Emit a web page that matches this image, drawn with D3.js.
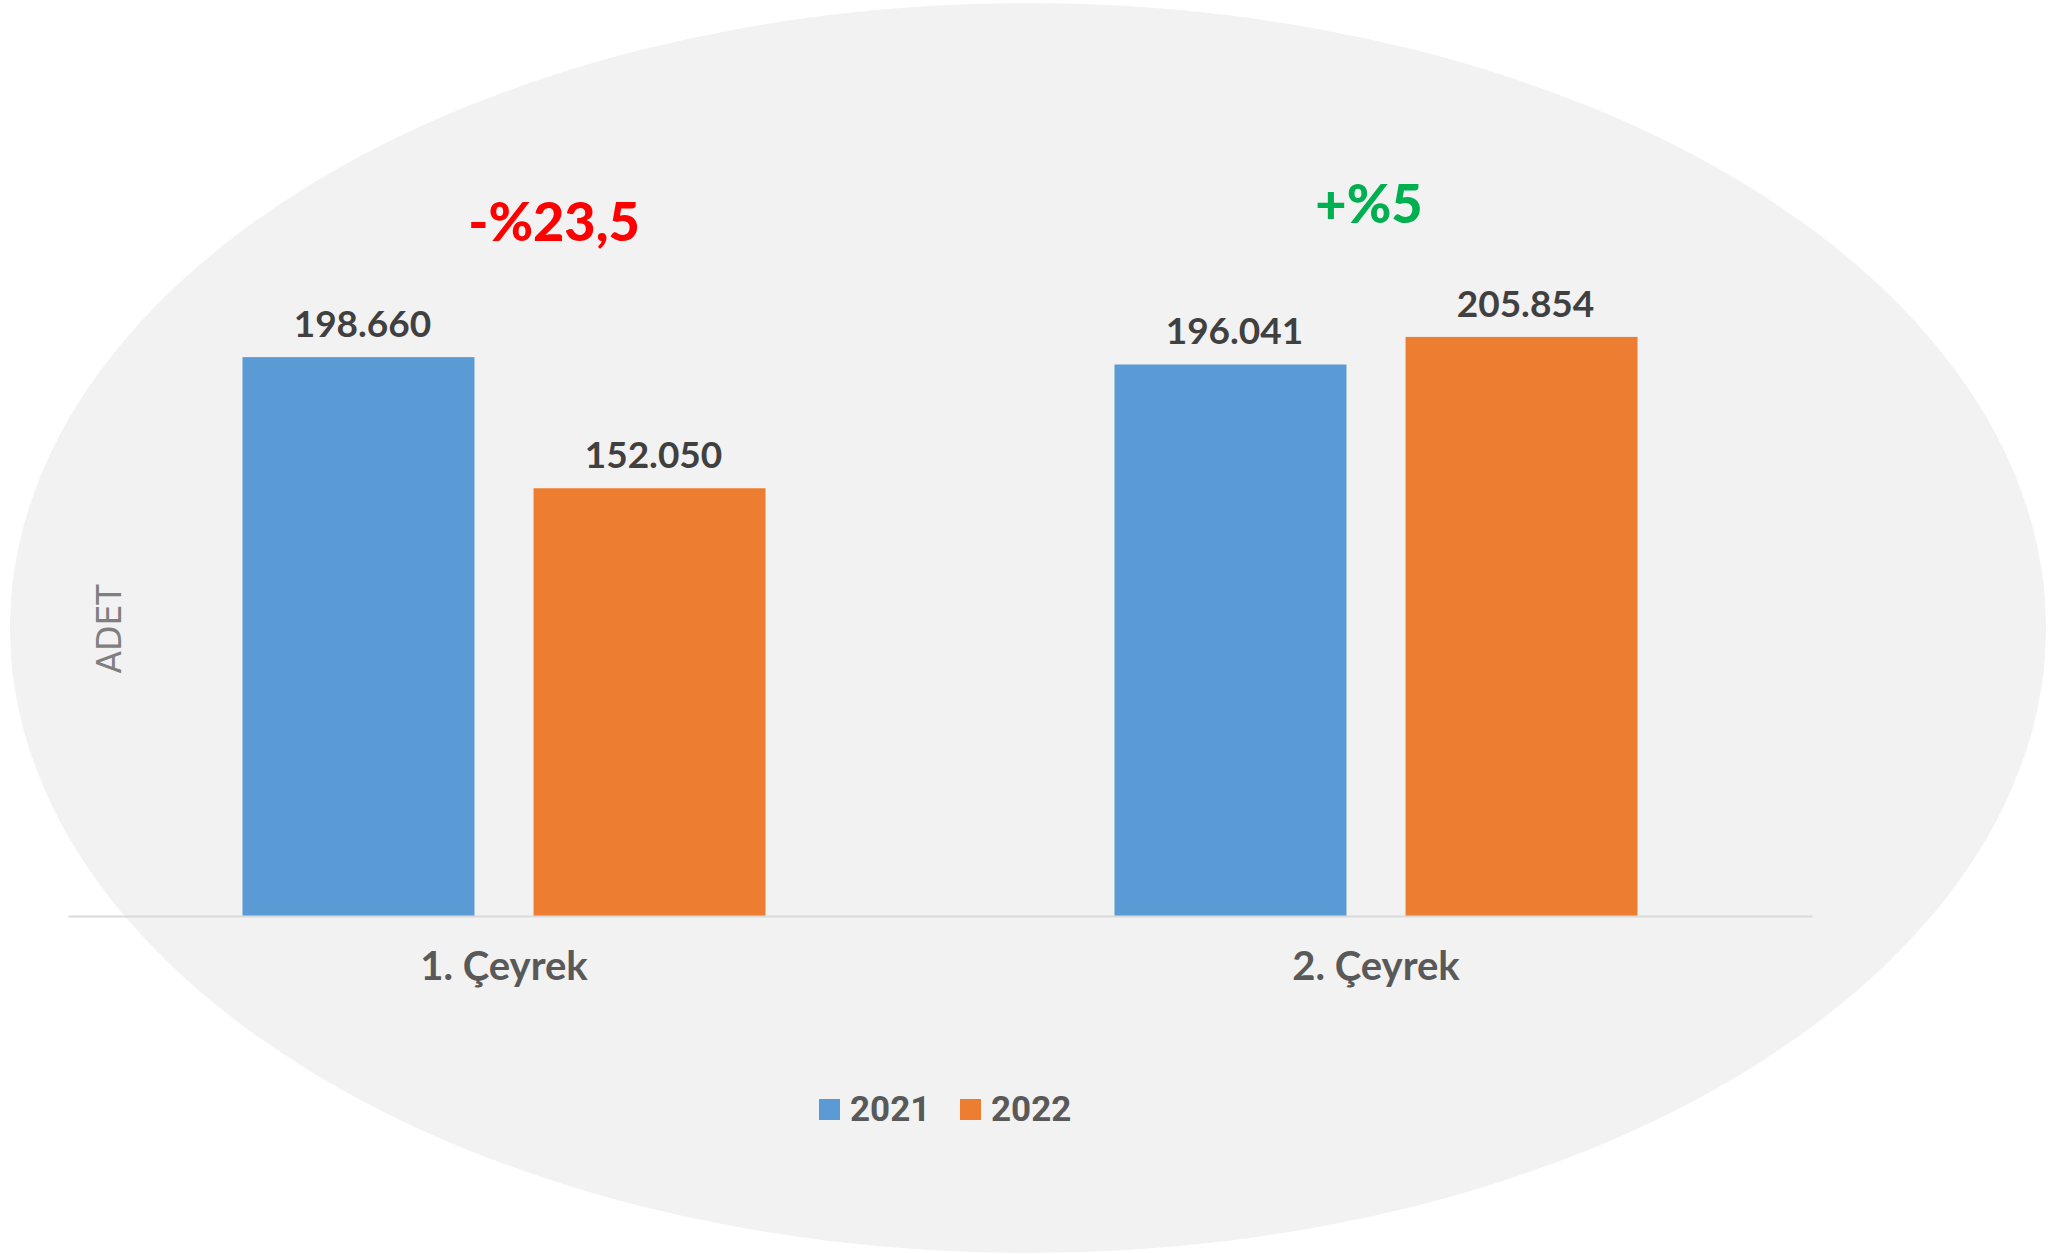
<!DOCTYPE html>
<html>
<head>
<meta charset="utf-8">
<script src="https://cdn.jsdelivr.net/npm/d3@7"></script>
<style>
  html, body { margin: 0; padding: 0; background: #fff; }
  svg { display: block; }
</style>
</head>
<body>
<script>
var categories = ['1. Çeyrek', '2. Çeyrek'];
var series = ['2021', '2022'];
var values2021 = [198660, 196041];
var values2022 = [152050, 205854];
var changeLabels = ['-%23,5', '+%5'];
var colors = ['#5b9bd5', '#ed7d31'];
var changeColors = ['#ff0000', '#00b050'];

var width = 2048, height = 1254;

var svg = d3.select('body')
  .append('svg')
  .attr('width', width)
  .attr('height', height);

// background ellipse
svg.append('ellipse')
  .attr('cx', 1028)
  .attr('cy', 628)
  .attr('rx', 1018)
  .attr('ry', 625)
  .attr('fill', '#f2f2f2');

var x0 = d3.scaleBand().domain(categories).range([68, 1812]);
var x1 = d3.scaleBand().domain(series).range([174.5, 872 - 174.5]).paddingInner(0.203);
var y = d3.scaleLinear().domain([0, 250000]).range([916, 212.7]);

var rows = categories.map(function(c, i) {
  return { cat: c, vals: [values2021[i], values2022[i]] };
});

var groups = svg.selectAll('g.group')
  .data(rows)
  .enter().append('g')
  .attr('class', 'group')
  .attr('transform', function(d) { return 'translate(' + x0(d.cat) + ',0)'; });

groups.selectAll('rect')
  .data(function(d) { return d.vals.map(function(v, j) { return { s: series[j], v: v, j: j }; }); })
  .enter().append('rect')
  .attr('x', function(d) { return x1(d.s); })
  .attr('y', function(d) { return y(d.v); })
  .attr('width', x1.bandwidth())
  .attr('height', function(d) { return y(0) - y(d.v); })
  .attr('fill', function(d) { return colors[d.j]; });

var fmt = function(v) { return d3.format(',')(v).replace(/,/g, '.'); };

groups.selectAll('text.val')
  .data(function(d) { return d.vals.map(function(v, j) { return { s: series[j], v: v }; }); })
  .enter().append('text')
  .attr('class', 'val')
  .attr('x', function(d) { return x1(d.s) + x1.bandwidth() / 2 + 4; })
  .attr('y', function(d) { return y(d.v) - 20; })
  .attr('text-anchor', 'middle')
  .attr('font-family', 'Lato, sans-serif')
  .attr('font-weight', 'bold')
  .attr('font-size', 37)
  .attr('fill', '#404040')
  .text(function(d) { return fmt(d.v); });

// change labels above each group
svg.selectAll('text.change')
  .data(changeLabels)
  .enter().append('text')
  .attr('class', 'change')
  .attr('x', function(d, i) { return x0(categories[i]) + x0.bandwidth() / 2 + (i === 0 ? 50 : -7); })
  .attr('y', function(d, i) { return i === 0 ? 241 : 223; })
  .attr('text-anchor', 'middle')
  .attr('font-family', 'Lato, sans-serif')
  .attr('font-weight', 900)
  .attr('font-size', 54)
  .attr('fill', function(d, i) { return changeColors[i]; })
  .text(function(d) { return d; });

// x axis
var xAxis = svg.append('g')
  .attr('transform', 'translate(0,' + y(0) + ')')
  .call(d3.axisBottom(x0).tickSize(0).tickSizeOuter(0).tickPadding(36));
xAxis.select('.domain').attr('stroke', '#d9d9d9').attr('stroke-width', 2);
xAxis.selectAll('text')
  .attr('font-family', 'Lato, sans-serif')
  .attr('font-weight', 'bold')
  .attr('font-size', 40)
  .attr('fill', '#595959');

// y axis title
svg.append('text')
  .attr('transform', 'translate(121,629) rotate(-90)')
  .attr('text-anchor', 'middle')
  .attr('font-family', 'DejaVu Sans, sans-serif')
  .attr('font-size', 33)
  .attr('fill', '#7f7f7f')
  .text('ADET');

// legend
var legendX = [819, 960];
var legend = svg.selectAll('g.legend')
  .data(series)
  .enter().append('g')
  .attr('class', 'legend')
  .attr('transform', function(d, i) { return 'translate(' + legendX[i] + ',1099)'; });
legend.append('rect')
  .attr('width', 21)
  .attr('height', 21)
  .attr('fill', function(d, i) { return colors[i]; });
legend.append('text')
  .attr('x', 31)
  .attr('y', 22)
  .attr('font-family', 'Roboto, sans-serif')
  .attr('font-weight', 'bold')
  .attr('font-size', 35)
  .attr('fill', '#595959')
  .text(function(d) { return d; });
</script>
</body>
</html>
